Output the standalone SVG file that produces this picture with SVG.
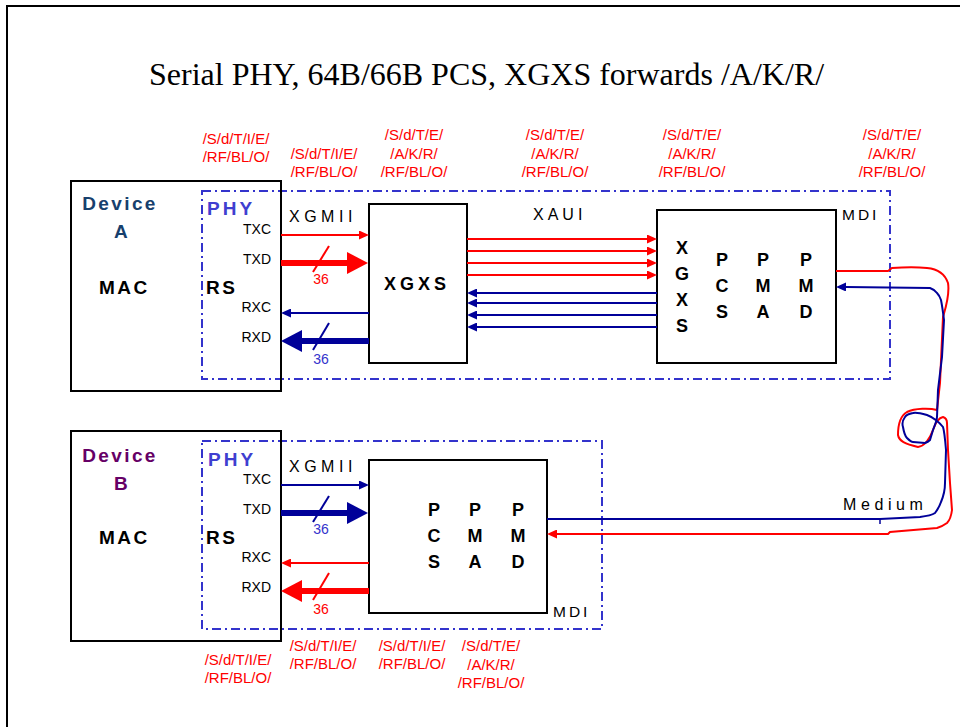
<svg xmlns="http://www.w3.org/2000/svg" width="960" height="727" viewBox="0 0 960 727">
<style>
text{font-family:"Liberation Sans",Arial,sans-serif}
.title{font-family:"Liberation Serif","Times New Roman",serif;font-size:32px;fill:#000}
.frame{fill:none;stroke:#000;stroke-width:2}
.box{fill:none;stroke:#000;stroke-width:2}
.phy{fill:none;stroke:#3333CC;stroke-width:2;stroke-dasharray:9 4 2 4}
.dev{font-size:19px;font-weight:bold;letter-spacing:2.4px;text-anchor:middle}
.big{font-size:19px;font-weight:bold;letter-spacing:2.5px;fill:#000}
.phyt{font-size:19px;font-weight:bold;fill:#3F3FD0;letter-spacing:3px}
.sig{font-size:14px;fill:#000;text-anchor:end}
.bus{font-size:16px;fill:#000;letter-spacing:4.5px}
.mdi{font-size:15.5px;fill:#000;letter-spacing:3px}
.blk{font-size:18px;font-weight:bold;fill:#000;text-anchor:middle}
.lbl{font-size:15px;fill:#FF0000;text-anchor:middle}
.num{font-size:14px;text-anchor:middle}
.r{stroke:#FF0000}
.b{stroke:#000099}
.thin{stroke-width:2;fill:none}
.thick{stroke-width:6;fill:none}
</style>
<defs>
<marker id="aR" markerUnits="userSpaceOnUse" viewBox="0 0 10 9" markerWidth="10" markerHeight="9" refX="0" refY="4.5" orient="auto"><path d="M0,0L10,4.5L0,9z" fill="#FF0000"/></marker>
<marker id="aB" markerUnits="userSpaceOnUse" viewBox="0 0 10 9" markerWidth="10" markerHeight="9" refX="0" refY="4.5" orient="auto"><path d="M0,0L10,4.5L0,9z" fill="#000099"/></marker>
<marker id="AR" markerUnits="userSpaceOnUse" viewBox="0 0 21 22" markerWidth="21" markerHeight="22" refX="0" refY="11" orient="auto"><path d="M0,0L21,11L0,22z" fill="#FF0000"/></marker>
<marker id="AB" markerUnits="userSpaceOnUse" viewBox="0 0 21 22" markerWidth="21" markerHeight="22" refX="0" refY="11" orient="auto"><path d="M0,0L21,11L0,22z" fill="#000099"/></marker>
</defs>

<path class="frame" d="M7,727V6H960"/>
<text class="title" x="149" y="85">Serial PHY, 64B/66B PCS, XGXS forwards /A/K/R/</text>

<g id="labels-top">
<text class="lbl" x="236" y="144">/S/d/T/I/E/</text>
<text class="lbl" x="236" y="162">/RF/BL/O/</text>
<text class="lbl" x="324" y="159">/S/d/T/I/E/</text>
<text class="lbl" x="324" y="177">/RF/BL/O/</text>
<text class="lbl" x="414" y="140">/S/d/T/E/</text>
<text class="lbl" x="414" y="158.5">/A/K/R/</text>
<text class="lbl" x="414" y="177">/RF/BL/O/</text>
<text class="lbl" x="555" y="140">/S/d/T/E/</text>
<text class="lbl" x="555" y="158.5">/A/K/R/</text>
<text class="lbl" x="555" y="177">/RF/BL/O/</text>
<text class="lbl" x="692" y="140">/S/d/T/E/</text>
<text class="lbl" x="692" y="158.5">/A/K/R/</text>
<text class="lbl" x="692" y="177">/RF/BL/O/</text>
<text class="lbl" x="892" y="140">/S/d/T/E/</text>
<text class="lbl" x="892" y="158.5">/A/K/R/</text>
<text class="lbl" x="892" y="177">/RF/BL/O/</text>
</g>

<g id="labels-bottom">
<text class="lbl" x="238" y="665">/S/d/T/I/E/</text>
<text class="lbl" x="238" y="683">/RF/BL/O/</text>
<text class="lbl" x="323" y="651">/S/d/T/I/E/</text>
<text class="lbl" x="323" y="669">/RF/BL/O/</text>
<text class="lbl" x="412" y="651">/S/d/T/I/E/</text>
<text class="lbl" x="412" y="669">/RF/BL/O/</text>
<text class="lbl" x="491" y="651">/S/d/T/E/</text>
<text class="lbl" x="491" y="669.5">/A/K/R/</text>
<text class="lbl" x="491" y="688">/RF/BL/O/</text>
</g>

<g id="phyA">
<rect class="phy" x="202" y="191" width="688" height="188"/>
<text class="phyt" x="207" y="215">PHY</text>
<text class="big" x="206" y="294">RS</text>
<text class="sig" x="271" y="234">TXC</text>
<text class="sig" x="271" y="264">TXD</text>
<text class="sig" x="271" y="312">RXC</text>
<text class="sig" x="271" y="342">RXD</text>
<text class="bus" x="289" y="222">XGMII</text>
<text class="bus" x="533" y="220" style="letter-spacing:4px">XAUI</text>
<text class="mdi" x="842" y="220">MDI</text>
</g>

<g id="deviceA">
<rect class="box" x="71" y="181" width="210" height="210"/>
<text class="dev" x="120" y="210" fill="#17406D">Device</text>
<text class="dev" x="122" y="238" fill="#17406D">A</text>
<text class="big" x="99" y="294">MAC</text>
</g>

<g id="xgxs">
<rect class="box" x="369" y="204" width="98" height="159"/>
<text class="blk" x="417" y="290" style="letter-spacing:4px">XGXS</text>
</g>

<g id="phyboxA">
<rect class="box" x="657" y="210" width="179" height="153"/>
<text class="blk" x="682" y="254">X</text>
<text class="blk" x="682" y="280">G</text>
<text class="blk" x="682" y="306">X</text>
<text class="blk" x="682" y="332">S</text>
<text class="blk" x="722" y="266">P</text>
<text class="blk" x="722" y="292">C</text>
<text class="blk" x="722" y="318">S</text>
<text class="blk" x="763" y="266">P</text>
<text class="blk" x="763" y="292">M</text>
<text class="blk" x="763" y="318">A</text>
<text class="blk" x="806" y="266">P</text>
<text class="blk" x="806" y="292">M</text>
<text class="blk" x="806" y="318">D</text>
</g>

<g id="phyB">
<rect class="phy" x="202" y="441" width="400" height="188"/>
<text class="phyt" x="208" y="466">PHY</text>
<text class="big" x="206" y="544">RS</text>
<text class="sig" x="271" y="484">TXC</text>
<text class="sig" x="271" y="514">TXD</text>
<text class="sig" x="271" y="562">RXC</text>
<text class="sig" x="271" y="592">RXD</text>
<text class="bus" x="289" y="472">XGMII</text>
<text class="mdi" x="553" y="617">MDI</text>
</g>

<g id="deviceB">
<rect class="box" x="71" y="431" width="210" height="210"/>
<text class="dev" x="120" y="462" fill="#660066">Device</text>
<text class="dev" x="122" y="490" fill="#660066">B</text>
<text class="big" x="99" y="544">MAC</text>
</g>

<g id="phyboxB">
<rect class="box" x="369" y="460" width="178" height="153"/>
<text class="blk" x="434" y="516">P</text>
<text class="blk" x="434" y="542">C</text>
<text class="blk" x="434" y="568">S</text>
<text class="blk" x="475" y="516">P</text>
<text class="blk" x="475" y="542">M</text>
<text class="blk" x="475" y="568">A</text>
<text class="blk" x="518" y="516">P</text>
<text class="blk" x="518" y="542">M</text>
<text class="blk" x="518" y="568">D</text>
</g>

<text class="bus" x="843" y="510" style="letter-spacing:4.6px">Medium</text>

<g id="connectors">
<line class="r thin" x1="281" y1="235" x2="359" y2="235" marker-end="url(#aR)"/>
<line class="r thick" x1="281" y1="263" x2="347" y2="263" marker-end="url(#AR)"/>
<line class="b thin" x1="369" y1="313" x2="291" y2="313" marker-end="url(#aB)"/>
<line class="b thick" x1="369" y1="341" x2="302" y2="341" marker-end="url(#AB)"/>
<line class="r" stroke-width="2" x1="313" y1="272" x2="329" y2="246"/>
<line class="b" stroke-width="2" x1="313" y1="350" x2="329" y2="323"/>
<text class="num" x="321" y="284" fill="#FF0000">36</text>
<text class="num" x="321" y="364" fill="#3333CC">36</text>
<line class="r thin" x1="467" y1="239" x2="647" y2="239" marker-end="url(#aR)"/>
<line class="r thin" x1="467" y1="251" x2="647" y2="251" marker-end="url(#aR)"/>
<line class="r thin" x1="467" y1="263" x2="647" y2="263" marker-end="url(#aR)"/>
<line class="r thin" x1="467" y1="275" x2="647" y2="275" marker-end="url(#aR)"/>
<line class="b thin" x1="657" y1="293" x2="477" y2="293" marker-end="url(#aB)"/>
<line class="b thin" x1="657" y1="303" x2="477" y2="303" marker-end="url(#aB)"/>
<line class="b thin" x1="657" y1="315" x2="477" y2="315" marker-end="url(#aB)"/>
<line class="b thin" x1="657" y1="327" x2="477" y2="327" marker-end="url(#aB)"/>
<line class="b thin" x1="281" y1="485" x2="359" y2="485" marker-end="url(#aB)"/>
<line class="b thick" x1="281" y1="513" x2="347" y2="513" marker-end="url(#AB)"/>
<line class="r thin" x1="369" y1="563" x2="291" y2="563" marker-end="url(#aR)"/>
<line class="r thick" x1="369" y1="591" x2="302" y2="591" marker-end="url(#AR)"/>
<line class="b" stroke-width="2" x1="313" y1="522" x2="329" y2="496"/>
<line class="r" stroke-width="2" x1="313" y1="600" x2="329" y2="573"/>
<text class="num" x="321" y="534" fill="#3333CC">36</text>
<text class="num" x="321" y="614" fill="#FF0000">36</text>
<path class="r thin" d="M836,271L888,271L892,268C905,267 918,267 927,268C937,269 945,274 948,283C950,295 945,310 943,317L940,383L937,410C930,408 915,408 907,412C900,416 898,425 898,435C899,441 905,444 918,447C925,446 930,438 933,430C935,424 938,418 943,417C946,418 947,421 947,423L948,450L950,483L952,510C951,518 949,521 947,523C943,526 940,527 937,528L890,532L888,534L557,534" marker-end="url(#aR)"/>
<path class="b thin" d="M547,519L880,519L920,517C928,516 932,515 935,513C938,509 940,505 941,502C944,495 945,488 945,483L946,450C945,438 944,430 943,427C940,423 933,417 927,415C920,413 916,412 913,413C908,414 906,415 905,417C902,421 902,424 903,427C904,433 905,436 907,438C910,441 912,442 913,442L925,443C928,442 929,441 930,440L933,430C935,425 937,420 937,417L938,390L942,357L944,320C943,312 942,305 941,300C940,297 938,294 937,293C935,290 933,289 930,288L846,287" marker-end="url(#aB)"/>
<line class="b" stroke-width="1.5" x1="880" y1="519" x2="880" y2="524"/>
</g>
</svg>
